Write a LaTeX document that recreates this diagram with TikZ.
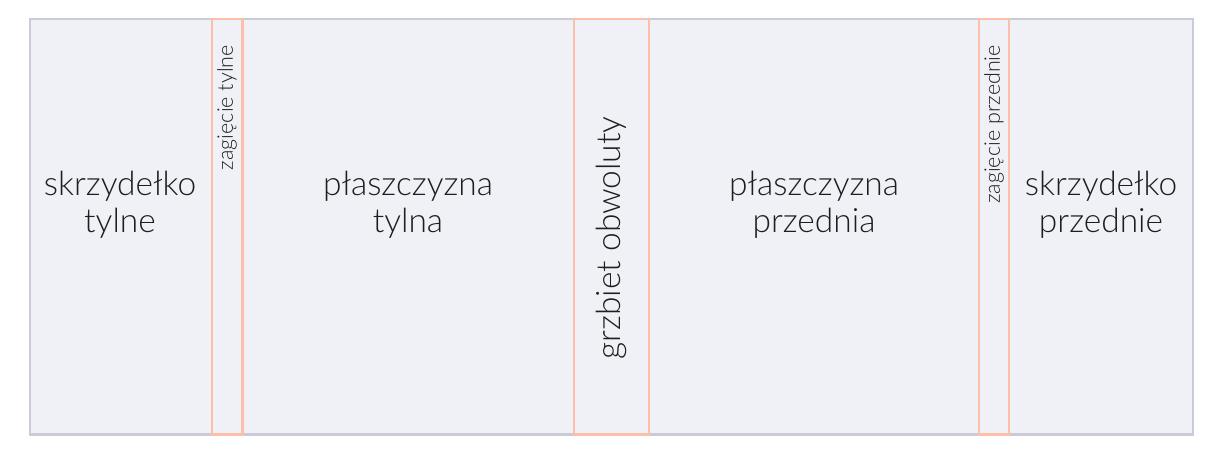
\documentclass[tikz,border=0pt]{standalone}
\usepackage{fontspec}
\IfFontExistsTF{Lato Light}{\setmainfont{Lato Light}}{\setmainfont{Lato}}
\definecolor{panelfill}{HTML}{F0F1F7}
\definecolor{panelborder}{HTML}{C9CBD6}
\definecolor{foldline}{HTML}{FBBFAA}
\definecolor{txt}{HTML}{1E1E1E}
\tikzset{
  panel/.style={draw=panelborder, fill=panelfill, line width=2.4pt},
  fold/.style={draw=foldline, line width=2.6pt},
  biglabel/.style={text=txt, font=\fontsize{33.5}{37}\selectfont, align=center, inner sep=0pt},
  smalllabel/.style={text=txt, font=\fontsize{21.5}{24}\selectfont, inner sep=0pt, rotate=90},
  spinelabel/.style={text=txt, font=\fontsize{33.5}{37}\selectfont, inner sep=0pt, rotate=90},
}
\begin{document}
\begin{tikzpicture}[x=1pt,y=-1pt]
\useasboundingbox (0,0) rectangle (1227,458);
\fill[white] (0,0) rectangle (1227,458);
\draw[panel] (30,19) rectangle (1193,434.5);
\draw[fold] (212,19) rectangle (242.5,434.5);
\draw[fold] (574,19) rectangle (649,434.5);
\draw[fold] (979,19) rectangle (1009,434.5);
\node[biglabel] (sk1) at (120,205) {skrzydełko\\tylne};
\node[biglabel] (pl1) at (408,205) {płaszczyzna\\tylna};
\node[biglabel] (pl2) at (814,205) {płaszczyzna\\przednia};
\node[biglabel] (sk2) at (1101,205) {skrzydełko\\przednie};
\node[smalllabel, anchor=east] (z1) at (227,45) {zagięcie tylne};
\node[smalllabel, anchor=east] (z2) at (994,45) {zagięcie przednie};
\node[spinelabel] (gr) at (611,238) {grzbiet obwoluty};
\end{tikzpicture}
\end{document}
